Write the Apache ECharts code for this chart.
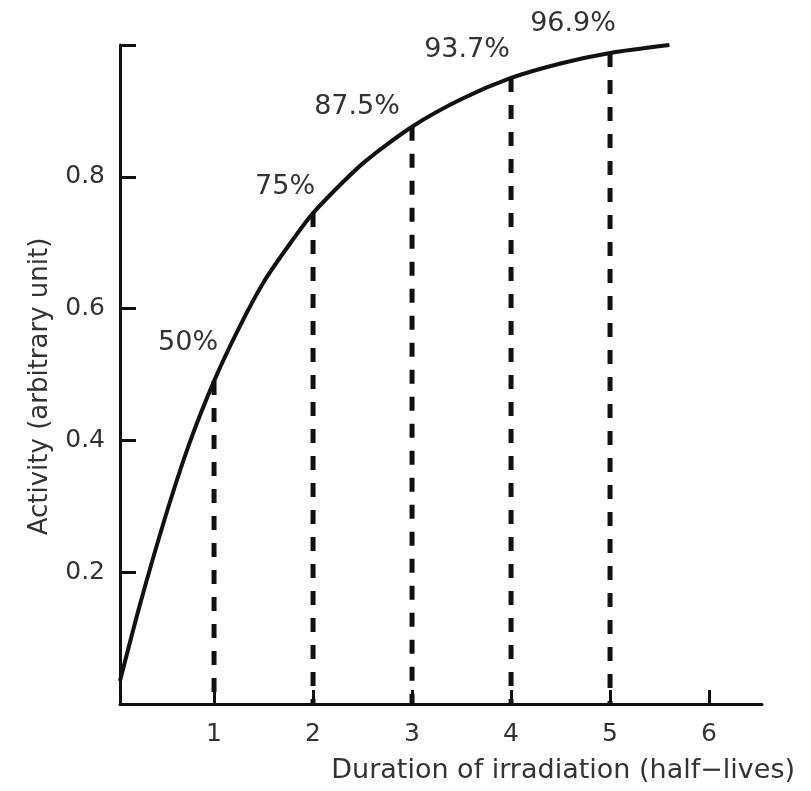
<!DOCTYPE html>
<html>
<head>
<meta charset="utf-8">
<script src="https://cdn.jsdelivr.net/npm/echarts@6/dist/echarts.min.js"></script>
<style>
  html, body { margin: 0; padding: 0; background: #fff; }
  #chart { width: 811px; height: 791px; }
</style>
</head>
<body>
<div id="chart"></div>
<script>
// Curve (duration in half-lives, activity)
const curveX = [0.05, 0.25, 0.5, 0.75, 1.0, 1.25, 1.5, 1.75, 2.0, 2.5, 3.0, 3.5, 4.0, 4.5, 5.0, 5.6];
const curveY = [0.035, 0.15, 0.28, 0.395, 0.49, 0.57, 0.64, 0.695, 0.745, 0.82, 0.876, 0.918, 0.95, 0.972, 0.988, 1.0];

// Dashed markers at whole half-lives
const markX = [1, 2, 3, 4, 5];
const markY = [0.49, 0.745, 0.876, 0.95, 0.988];
const markLabels = ['50%', '75%', '87.5%', '93.7%', '96.9%'];

// Tick labels
const xTicks = [1, 2, 3, 4, 5, 6];
const yTicks = [0.2, 0.4, 0.6, 0.8, 1.0];
const yTickLabels = [0.2, 0.4, 0.6, 0.8];

const xName = 'Duration of irradiation (half\u2212lives)';
const yName = 'Activity (arbitrary unit)';

// label offsets (style only)
const labelOffsets = [[-26, -38], [-28, -26], [-55, -20], [-44, -28], [-37, -29]];

const ink = '#111';
const textCol = '#333';
const font = 'DejaVu Sans';

const dashSeries = markX.map((x, i) => ({
  type: 'line',
  data: [[x, markY[i]], [x, 0]],
  symbol: 'none',
  silent: true,
  animation: false,
  lineStyle: { color: ink, width: 5, type: [14, 13], cap: 'butt' },
  z: 2
}));

const chart = echarts.init(document.getElementById('chart'));
chart.setOption({
  animation: false,
  backgroundColor: '#fff',
  grid: { left: 120, right: 49, top: 45, bottom: 87, containLabel: false },
  xAxis: {
    type: 'value',
    min: 0.05,
    max: 6.535,
    name: xName,
    nameLocation: 'end',
    nameGap: 33,
    nameTextStyle: {
      fontFamily: font, fontSize: 27, color: textCol,
      align: 'right', verticalAlign: 'top', padding: [53, 0, 0, 0]
    },
    splitLine: { show: false },
    axisLine: { show: true, lineStyle: { color: ink, width: 3 } },
    axisTick: { show: true, inside: true, length: 14, lineStyle: { color: ink, width: 3 }, customValues: xTicks },
    axisLabel: { show: true, margin: 18, fontFamily: font, fontSize: 25, color: textCol, customValues: xTicks }
  },
  yAxis: {
    type: 'value',
    min: 0,
    max: 1,
    name: yName,
    nameLocation: 'middle',
    nameGap: 67,
    nameRotate: 90,
    nameTextStyle: { fontFamily: font, fontSize: 26, color: textCol, padding: [0, 24, 0, 0] },
    splitLine: { show: false },
    axisLine: { show: true, lineStyle: { color: ink, width: 3 } },
    axisTick: { show: true, inside: true, length: 16, lineStyle: { color: ink, width: 3 }, customValues: yTicks },
    axisLabel: { show: true, margin: 15, fontFamily: font, fontSize: 25, color: textCol, customValues: yTickLabels,
      formatter: v => v.toFixed(1) }
  },
  series: [
    {
      type: 'line',
      data: curveX.map((x, i) => [x, curveY[i]]),
      smooth: 0.25,
      symbol: 'none',
      lineStyle: { color: ink, width: 4 },
      z: 3
    },
    ...dashSeries,
    {
      type: 'scatter',
      symbolSize: 0,
      silent: true,
      itemStyle: { opacity: 1 },
      data: markX.map((x, i) => ({
        value: [x, markY[i]],
        label: {
          show: true,
          formatter: markLabels[i],
          position: 'inside',
          offset: labelOffsets[i],
          align: 'center',
          verticalAlign: 'middle',
          fontFamily: font,
          fontSize: 27,
          color: textCol,
          opacity: 1
        }
      })),
      z: 4
    }
  ]
});
</script>
</body>
</html>
